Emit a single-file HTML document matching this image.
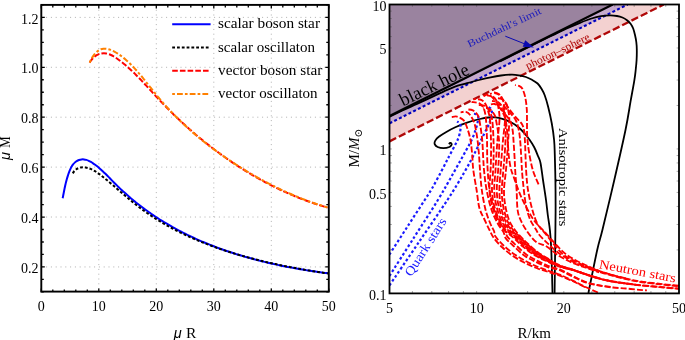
<!DOCTYPE html>
<html><head><meta charset="utf-8"><title>Mass-radius diagrams</title>
<style>
html,body{margin:0;padding:0;background:#fff;}
svg{display:block;}
text{font-family:'Liberation Serif', 'DejaVu Serif', serif;}
.tk{font-size:14px;}
.lg{font-size:14px;}
.ax{font-size:15.5px;}
.mu{font-family:'Liberation Sans','DejaVu Sans',sans-serif;font-style:italic;font-size:14.5px;}
</style></head><body>
<svg width="685" height="340" viewBox="0 0 685 340">
<rect width="685" height="340" fill="#fff"/>
<g stroke="#b0b0b0" stroke-width="1" stroke-dasharray="1 3.8" fill="none"><line x1="98.80" y1="4.90" x2="98.80" y2="291.90"/><line x1="156.30" y1="4.90" x2="156.30" y2="291.90"/><line x1="213.80" y1="4.90" x2="213.80" y2="291.90"/><line x1="271.30" y1="4.90" x2="271.30" y2="291.90"/><line x1="41.30" y1="266.94" x2="328.80" y2="266.94"/><line x1="41.30" y1="217.03" x2="328.80" y2="217.03"/><line x1="41.30" y1="167.12" x2="328.80" y2="167.12"/><line x1="41.30" y1="117.20" x2="328.80" y2="117.20"/><line x1="41.30" y1="67.29" x2="328.80" y2="67.29"/><line x1="41.30" y1="17.38" x2="328.80" y2="17.38"/></g>
<path d="M62.66,197.39C62.74,196.98 62.99,195.73 63.15,194.90C63.31,194.07 63.47,193.24 63.64,192.42C63.80,191.59 63.96,190.77 64.12,189.95C64.29,189.12 64.45,188.30 64.62,187.48C64.79,186.66 64.97,185.84 65.15,185.02C65.33,184.21 65.52,183.39 65.71,182.58C65.91,181.76 66.11,180.95 66.32,180.13C66.53,179.32 66.75,178.51 66.99,177.70C67.22,176.89 67.47,176.08 67.73,175.28C67.99,174.47 68.26,173.66 68.55,172.86C68.83,172.05 69.13,171.24 69.46,170.44C69.78,169.64 70.11,168.84 70.48,168.06C70.85,167.28 71.24,166.51 71.67,165.77C72.10,165.04 72.56,164.33 73.06,163.67C73.57,163.01 74.12,162.38 74.72,161.83C75.33,161.27 75.98,160.75 76.69,160.32C77.40,159.89 78.20,159.51 79.00,159.24C79.81,158.96 80.69,158.75 81.52,158.65C82.36,158.55 83.20,158.55 84.01,158.63C84.82,158.71 85.62,158.88 86.40,159.11C87.19,159.34 87.95,159.65 88.71,159.99C89.46,160.33 90.20,160.73 90.93,161.15C91.66,161.57 92.38,162.03 93.08,162.50C93.79,162.97 94.48,163.46 95.17,163.96C95.86,164.47 96.53,164.99 97.20,165.52C97.86,166.05 98.52,166.60 99.17,167.15C99.82,167.71 100.46,168.27 101.10,168.85C101.73,169.42 102.36,170.01 102.99,170.60C103.61,171.19 104.23,171.79 104.84,172.39C105.46,172.99 106.07,173.60 106.68,174.22C107.29,174.83 107.89,175.45 108.49,176.07C109.10,176.68 109.70,177.31 110.30,177.93C110.90,178.55 111.50,179.17 112.10,179.79C112.71,180.41 113.31,181.03 113.91,181.65C114.51,182.26 115.12,182.87 115.73,183.48C116.34,184.09 116.95,184.70 117.56,185.30C118.17,185.90 118.79,186.49 119.40,187.09C120.02,187.68 120.64,188.27 121.26,188.85C121.89,189.44 122.51,190.02 123.14,190.60C123.77,191.17 124.39,191.75 125.03,192.32C125.66,192.89 126.29,193.45 126.93,194.01C127.56,194.58 128.20,195.13 128.84,195.69C129.48,196.24 130.13,196.79 130.77,197.34C131.42,197.89 132.06,198.43 132.71,198.97C133.36,199.51 134.01,200.05 134.67,200.58C135.32,201.11 135.98,201.64 136.63,202.16C137.29,202.69 137.95,203.21 138.61,203.73C139.28,204.24 139.94,204.76 140.61,205.27C141.27,205.78 141.94,206.29 142.61,206.79C143.28,207.29 143.96,207.79 144.63,208.29C145.30,208.78 145.98,209.28 146.66,209.76C147.34,210.25 148.02,210.74 148.70,211.22C149.38,211.70 150.07,212.18 150.76,212.66C151.44,213.13 152.13,213.60 152.82,214.07C153.51,214.54 154.20,215.00 154.90,215.46C155.59,215.93 156.29,216.38 156.99,216.84C157.69,217.29 158.39,217.74 159.09,218.19C159.79,218.64 160.49,219.08 161.20,219.52C161.90,219.96 162.61,220.40 163.32,220.84C164.03,221.27 164.74,221.70 165.45,222.13C166.17,222.56 166.88,222.98 167.60,223.40C168.31,223.82 169.03,224.24 169.75,224.66C170.47,225.07 171.19,225.48 171.92,225.89C172.64,226.30 173.36,226.70 174.09,227.11C174.82,227.51 175.55,227.91 176.28,228.30C177.01,228.70 177.74,229.09 178.47,229.48C179.21,229.87 179.94,230.26 180.68,230.64C181.41,231.02 182.15,231.40 182.89,231.78C183.63,232.16 184.37,232.53 185.12,232.90C185.86,233.27 186.60,233.64 187.35,234.01C188.10,234.37 188.84,234.73 189.59,235.09C190.34,235.45 191.09,235.81 191.84,236.16C192.60,236.51 193.35,236.86 194.10,237.21C194.86,237.56 195.62,237.90 196.37,238.24C197.13,238.58 197.89,238.92 198.65,239.26C199.41,239.59 200.18,239.93 200.94,240.26C201.70,240.59 202.47,240.91 203.23,241.24C204.00,241.56 204.77,241.88 205.54,242.20C206.31,242.52 207.08,242.84 207.85,243.15C208.62,243.46 209.39,243.77 210.17,244.08C210.94,244.39 211.72,244.69 212.50,245.00C213.27,245.30 214.05,245.60 214.83,245.89C215.61,246.19 216.39,246.48 217.17,246.78C217.95,247.07 218.74,247.36 219.52,247.64C220.31,247.93 221.09,248.21 221.88,248.49C222.67,248.77 223.45,249.05 224.24,249.33C225.03,249.60 225.82,249.88 226.61,250.15C227.40,250.42 228.20,250.69 228.99,250.95C229.78,251.22 230.58,251.48 231.37,251.74C232.17,252.00 232.97,252.26 233.76,252.52C234.56,252.77 235.36,253.02 236.16,253.28C236.96,253.53 237.76,253.77 238.56,254.02C239.37,254.27 240.17,254.51 240.97,254.75C241.78,254.99 242.58,255.23 243.39,255.47C244.19,255.70 245.00,255.94 245.81,256.17C246.61,256.40 247.42,256.63 248.23,256.86C249.04,257.09 249.85,257.31 250.66,257.53C251.48,257.76 252.29,257.98 253.10,258.19C253.91,258.41 254.73,258.63 255.54,258.84C256.36,259.05 257.17,259.27 257.99,259.48C258.80,259.68 259.62,259.89 260.44,260.10C261.26,260.30 262.08,260.50 262.90,260.70C263.72,260.90 264.54,261.10 265.36,261.30C266.18,261.50 267.00,261.69 267.82,261.88C268.64,262.07 269.47,262.26 270.29,262.45C271.11,262.64 271.94,262.83 272.76,263.01C273.59,263.19 274.41,263.38 275.24,263.56C276.07,263.74 276.89,263.91 277.72,264.09C278.55,264.27 279.38,264.44 280.21,264.61C281.03,264.78 281.86,264.95 282.69,265.12C283.52,265.29 284.35,265.46 285.18,265.62C286.02,265.78 286.85,265.95 287.68,266.11C288.51,266.27 289.34,266.43 290.18,266.58C291.01,266.74 291.84,266.90 292.68,267.05C293.51,267.20 294.35,267.35 295.18,267.50C296.01,267.65 296.85,267.80 297.69,267.95C298.52,268.09 299.36,268.24 300.19,268.38C301.03,268.52 301.87,268.66 302.70,268.80C303.54,268.94 304.38,269.08 305.22,269.22C306.05,269.35 306.89,269.49 307.73,269.62C308.57,269.75 309.41,269.88 310.25,270.01C311.09,270.14 311.93,270.27 312.77,270.39C313.61,270.52 314.44,270.64 315.29,270.77C316.13,270.89 316.97,271.01 317.81,271.13C318.65,271.25 319.49,271.37 320.33,271.49C321.17,271.60 322.01,271.72 322.85,271.83C323.69,271.95 324.53,272.06 325.38,272.17C326.22,272.28 327.48,272.44 327.90,272.50" fill="none" transform="translate(0,0.8)" stroke="#0000ff" stroke-width="2"/>
<path d="M72.78,172.55C73.04,172.16 73.76,170.88 74.34,170.21C74.91,169.53 75.56,168.96 76.24,168.49C76.91,168.01 77.65,167.63 78.40,167.34C79.16,167.04 79.95,166.84 80.75,166.70C81.56,166.56 82.39,166.51 83.21,166.52C84.04,166.52 84.88,166.60 85.70,166.73C86.53,166.86 87.35,167.05 88.15,167.28C88.95,167.51 89.73,167.80 90.50,168.12C91.28,168.43 92.04,168.80 92.79,169.18C93.54,169.57 94.27,169.99 95.00,170.43C95.73,170.87 96.45,171.34 97.16,171.82C97.87,172.30 98.57,172.81 99.27,173.32C99.97,173.83 100.66,174.36 101.34,174.89C102.03,175.42 102.71,175.96 103.39,176.50C104.06,177.04 104.74,177.59 105.41,178.13C106.08,178.68 106.75,179.22 107.41,179.77C108.08,180.32 108.74,180.88 109.40,181.43C110.06,181.98 110.72,182.54 111.37,183.09C112.03,183.65 112.68,184.20 113.33,184.76C113.98,185.32 114.63,185.88 115.28,186.43C115.93,186.99 116.58,187.55 117.22,188.11C117.87,188.67 118.52,189.23 119.16,189.79C119.81,190.34 120.45,190.90 121.09,191.46C121.74,192.01 122.38,192.57 123.02,193.13C123.67,193.68 124.31,194.23 124.95,194.79C125.60,195.34 126.24,195.89 126.89,196.44C127.53,196.98 128.18,197.53 128.83,198.07C129.47,198.62 130.12,199.16 130.77,199.70C131.42,200.24 132.07,200.78 132.73,201.31C133.38,201.84 134.03,202.37 134.69,202.90C135.35,203.42 136.01,203.95 136.67,204.47C137.33,204.99 138.00,205.50 138.66,206.01C139.33,206.52 140.00,207.03 140.67,207.54C141.35,208.04 142.02,208.54 142.70,209.04C143.38,209.53 144.06,210.02 144.74,210.51C145.42,211.00 146.11,211.48 146.79,211.96C147.48,212.45 148.17,212.92 148.86,213.40C149.55,213.87 150.25,214.34 150.95,214.80C151.64,215.27 152.34,215.73 153.04,216.19C153.75,216.65 154.45,217.10 155.16,217.55C155.86,218.00 156.57,218.45 157.28,218.90C157.99,219.34 158.71,219.78 159.42,220.22C160.14,220.65 160.85,221.09 161.57,221.52C162.29,221.95 163.02,222.37 163.74,222.79C164.46,223.22 165.19,223.64 165.92,224.05C166.65,224.47 167.38,224.88 168.11,225.29C168.84,225.70 169.57,226.10 170.31,226.51C171.05,226.91 171.79,227.31 172.53,227.70C173.27,228.10 174.01,228.49 174.75,228.88C175.50,229.27 176.24,229.65 176.99,230.04C177.74,230.42 178.49,230.80 179.24,231.17C179.99,231.55 180.74,231.92 181.50,232.29C182.25,232.66 183.01,233.03 183.77,233.39C184.53,233.75 185.29,234.11 186.05,234.47C186.81,234.83 187.58,235.18 188.34,235.53C189.11,235.88 189.88,236.23 190.65,236.58C191.41,236.92 192.18,237.26 192.96,237.60C193.73,237.94 194.50,238.28 195.28,238.61C196.05,238.94 196.83,239.27 197.61,239.60C198.39,239.92 199.17,240.25 199.95,240.57C200.73,240.89 201.51,241.21 202.29,241.52C203.08,241.84 203.86,242.15 204.65,242.46C205.44,242.77 206.23,243.08 207.02,243.38C207.81,243.69 208.60,243.99 209.39,244.29C210.18,244.59 210.97,244.88 211.77,245.18C212.56,245.47 213.36,245.76 214.16,246.05C214.95,246.34 215.75,246.62 216.55,246.91C217.35,247.19 218.15,247.47 218.96,247.75C219.76,248.02 220.56,248.30 221.36,248.57C222.17,248.84 222.97,249.11 223.78,249.38C224.59,249.65 225.39,249.92 226.20,250.18C227.01,250.44 227.82,250.70 228.63,250.96C229.44,251.22 230.25,251.47 231.06,251.72C231.88,251.98 232.69,252.23 233.50,252.48C234.32,252.72 235.13,252.97 235.95,253.21C236.76,253.46 237.58,253.70 238.40,253.94C239.22,254.18 240.03,254.41 240.85,254.65C241.67,254.88 242.49,255.11 243.31,255.35C244.13,255.58 244.95,255.80 245.78,256.03C246.60,256.25 247.42,256.48 248.24,256.70C249.07,256.92 249.89,257.14 250.72,257.36C251.54,257.58 252.37,257.79 253.19,258.00C254.02,258.22 254.84,258.43 255.67,258.64C256.50,258.85 257.32,259.05 258.15,259.26C258.98,259.46 259.81,259.67 260.64,259.87C261.46,260.07 262.29,260.27 263.12,260.47C263.95,260.66 264.78,260.86 265.61,261.05C266.44,261.25 267.27,261.44 268.10,261.63C268.94,261.82 269.77,262.01 270.60,262.19C271.43,262.38 272.26,262.56 273.09,262.75C273.93,262.93 274.76,263.11 275.59,263.29C276.42,263.47 277.25,263.65 278.09,263.82C278.92,264.00 279.75,264.18 280.59,264.35C281.42,264.52 282.25,264.69 283.09,264.86C283.92,265.03 284.75,265.20 285.58,265.37C286.42,265.53 287.25,265.70 288.08,265.86C288.92,266.02 289.75,266.19 290.58,266.35C291.42,266.51 292.25,266.67 293.08,266.82C293.92,266.98 294.75,267.14 295.58,267.29C296.41,267.45 297.25,267.60 298.08,267.75C298.91,267.90 299.74,268.05 300.58,268.20C301.41,268.35 302.24,268.50 303.07,268.65C303.90,268.79 304.74,268.94 305.57,269.08C306.40,269.23 307.23,269.37 308.06,269.51C308.89,269.65 309.72,269.79 310.55,269.93C311.38,270.07 312.21,270.21 313.04,270.35C313.86,270.49 314.69,270.62 315.52,270.76C316.35,270.89 317.18,271.02 318.00,271.16C318.83,271.29 319.66,271.42 320.48,271.55C321.31,271.68 322.13,271.81 322.96,271.94C323.78,272.07 324.61,272.20 325.43,272.32C326.25,272.45 327.49,272.64 327.90,272.70" fill="none" transform="translate(0,0.8)" stroke="#000000" stroke-width="2" stroke-dasharray="2.8 2.0"/>
<path d="M89.71,61.84C89.93,61.48 90.50,60.36 90.98,59.66C91.47,58.96 92.02,58.28 92.61,57.65C93.20,57.01 93.85,56.41 94.53,55.87C95.21,55.33 95.94,54.83 96.68,54.40C97.43,53.98 98.22,53.61 99.01,53.32C99.80,53.04 100.62,52.82 101.43,52.68C102.24,52.54 103.07,52.48 103.89,52.48C104.70,52.48 105.51,52.55 106.31,52.69C107.10,52.82 107.89,53.03 108.67,53.27C109.45,53.52 110.21,53.83 110.97,54.17C111.73,54.52 112.48,54.91 113.22,55.33C113.96,55.74 114.69,56.20 115.41,56.67C116.14,57.14 116.85,57.64 117.56,58.15C118.27,58.65 118.96,59.17 119.66,59.69C120.35,60.21 121.03,60.74 121.71,61.27C122.38,61.80 123.05,62.34 123.71,62.88C124.38,63.43 125.03,63.97 125.68,64.52C126.33,65.08 126.97,65.63 127.61,66.19C128.25,66.75 128.88,67.32 129.50,67.89C130.13,68.45 130.75,69.03 131.37,69.60C131.98,70.18 132.59,70.76 133.20,71.34C133.81,71.92 134.41,72.51 135.01,73.10C135.60,73.69 136.20,74.28 136.79,74.88C137.38,75.47 137.97,76.07 138.55,76.67C139.13,77.27 139.71,77.87 140.29,78.47C140.87,79.08 141.44,79.68 142.02,80.29C142.59,80.90 143.16,81.51 143.73,82.12C144.30,82.73 144.87,83.34 145.43,83.96C146.00,84.57 146.56,85.19 147.13,85.80C147.69,86.42 148.25,87.03 148.81,87.65C149.38,88.27 149.94,88.88 150.50,89.50C151.06,90.12 151.62,90.73 152.19,91.35C152.75,91.97 153.31,92.58 153.87,93.20C154.44,93.82 155.00,94.43 155.57,95.05C156.13,95.66 156.70,96.28 157.27,96.89C157.84,97.50 158.41,98.11 158.98,98.72C159.56,99.33 160.13,99.94 160.71,100.55C161.28,101.16 161.86,101.76 162.44,102.37C163.02,102.97 163.60,103.58 164.19,104.18C164.77,104.78 165.36,105.38 165.95,105.98C166.53,106.58 167.12,107.18 167.71,107.78C168.31,108.38 168.90,108.97 169.49,109.56C170.09,110.16 170.69,110.75 171.29,111.34C171.88,111.93 172.49,112.52 173.09,113.11C173.69,113.70 174.29,114.29 174.90,114.87C175.51,115.46 176.11,116.04 176.72,116.62C177.33,117.21 177.95,117.79 178.56,118.37C179.17,118.94 179.79,119.52 180.40,120.10C181.02,120.67 181.64,121.25 182.26,121.82C182.88,122.39 183.50,122.97 184.13,123.53C184.75,124.10 185.37,124.67 186.00,125.24C186.63,125.80 187.26,126.37 187.89,126.93C188.52,127.49 189.15,128.05 189.79,128.61C190.42,129.17 191.06,129.73 191.69,130.29C192.33,130.84 192.97,131.40 193.61,131.95C194.25,132.50 194.90,133.05 195.54,133.60C196.19,134.15 196.83,134.70 197.48,135.24C198.13,135.79 198.78,136.33 199.43,136.87C200.08,137.41 200.73,137.95 201.39,138.49C202.04,139.03 202.70,139.56 203.35,140.10C204.01,140.63 204.67,141.16 205.33,141.69C205.99,142.22 206.66,142.75 207.32,143.27C207.99,143.80 208.65,144.32 209.32,144.85C209.99,145.37 210.66,145.89 211.33,146.41C212.00,146.92 212.67,147.44 213.34,147.95C214.02,148.47 214.69,148.98 215.37,149.49C216.05,150.00 216.73,150.50 217.41,151.01C218.09,151.52 218.77,152.02 219.45,152.52C220.14,153.02 220.82,153.52 221.51,154.02C222.19,154.51 222.88,155.01 223.57,155.50C224.26,155.99 224.95,156.48 225.65,156.97C226.34,157.46 227.03,157.94 227.73,158.43C228.42,158.91 229.12,159.39 229.82,159.87C230.52,160.35 231.22,160.83 231.92,161.30C232.62,161.78 233.33,162.25 234.03,162.72C234.74,163.19 235.44,163.65 236.15,164.12C236.86,164.58 237.57,165.05 238.28,165.51C238.99,165.97 239.70,166.43 240.41,166.88C241.13,167.34 241.84,167.79 242.56,168.24C243.28,168.69 243.99,169.14 244.71,169.58C245.43,170.03 246.15,170.47 246.88,170.91C247.60,171.35 248.32,171.79 249.05,172.23C249.77,172.66 250.50,173.10 251.23,173.53C251.95,173.96 252.68,174.39 253.41,174.81C254.14,175.24 254.88,175.66 255.61,176.08C256.34,176.50 257.08,176.92 257.81,177.33C258.55,177.75 259.29,178.16 260.03,178.57C260.77,178.98 261.51,179.39 262.25,179.79C262.99,180.19 263.73,180.60 264.48,180.99C265.22,181.39 265.97,181.79 266.71,182.18C267.46,182.58 268.21,182.97 268.96,183.35C269.71,183.74 270.46,184.13 271.21,184.51C271.97,184.89 272.72,185.27 273.47,185.65C274.23,186.02 274.99,186.40 275.74,186.77C276.50,187.14 277.26,187.51 278.02,187.87C278.78,188.24 279.54,188.60 280.30,188.96C281.07,189.32 281.83,189.68 282.60,190.03C283.36,190.38 284.13,190.73 284.89,191.08C285.66,191.43 286.43,191.77 287.20,192.11C287.97,192.46 288.74,192.79 289.52,193.13C290.29,193.47 291.06,193.80 291.84,194.13C292.61,194.46 293.39,194.78 294.17,195.11C294.94,195.43 295.72,195.75 296.50,196.07C297.28,196.39 298.06,196.70 298.85,197.01C299.63,197.32 300.41,197.63 301.20,197.93C301.98,198.24 302.77,198.54 303.55,198.84C304.34,199.14 305.13,199.43 305.92,199.72C306.71,200.01 307.50,200.30 308.29,200.59C309.08,200.87 309.87,201.16 310.67,201.44C311.46,201.71 312.26,201.99 313.05,202.26C313.85,202.53 314.64,202.80 315.44,203.07C316.24,203.33 317.04,203.60 317.84,203.86C318.64,204.11 319.44,204.37 320.25,204.62C321.05,204.87 321.85,205.12 322.66,205.37C323.46,205.61 324.27,205.86 325.08,206.09C325.88,206.33 327.10,206.68 327.50,206.80" fill="none" transform="translate(0,0.8)" stroke="#ff0000" stroke-width="2" stroke-dasharray="5.6 2.1"/>
<path d="M89.71,61.81C89.85,61.47 90.24,60.47 90.58,59.76C90.91,59.05 91.30,58.30 91.73,57.55C92.16,56.81 92.63,56.04 93.14,55.31C93.65,54.58 94.20,53.84 94.79,53.16C95.37,52.48 96.00,51.81 96.65,51.23C97.31,50.64 98.00,50.09 98.72,49.64C99.44,49.18 100.19,48.79 100.96,48.51C101.73,48.24 102.54,48.06 103.35,47.97C104.16,47.87 105.00,47.88 105.81,47.95C106.63,48.02 107.45,48.17 108.25,48.37C109.06,48.57 109.85,48.83 110.63,49.13C111.42,49.43 112.19,49.78 112.95,50.15C113.71,50.52 114.46,50.93 115.20,51.34C115.94,51.76 116.67,52.20 117.39,52.65C118.11,53.10 118.82,53.56 119.51,54.04C120.21,54.52 120.90,55.01 121.58,55.52C122.25,56.02 122.92,56.54 123.58,57.07C124.24,57.59 124.89,58.13 125.53,58.68C126.17,59.23 126.81,59.79 127.43,60.36C128.06,60.93 128.68,61.51 129.29,62.10C129.90,62.68 130.50,63.28 131.10,63.88C131.69,64.48 132.28,65.09 132.87,65.70C133.45,66.31 134.03,66.93 134.60,67.56C135.17,68.18 135.74,68.81 136.30,69.44C136.86,70.07 137.42,70.70 137.97,71.34C138.52,71.98 139.07,72.62 139.61,73.26C140.16,73.90 140.70,74.54 141.23,75.19C141.77,75.83 142.30,76.48 142.83,77.13C143.36,77.78 143.89,78.43 144.41,79.09C144.94,79.74 145.46,80.39 145.98,81.05C146.51,81.70 147.03,82.35 147.54,83.01C148.06,83.66 148.58,84.32 149.10,84.98C149.62,85.63 150.13,86.29 150.65,86.94C151.17,87.60 151.68,88.25 152.20,88.91C152.72,89.56 153.24,90.21 153.76,90.87C154.27,91.52 154.80,92.17 155.32,92.82C155.84,93.47 156.36,94.11 156.89,94.76C157.42,95.40 157.95,96.05 158.48,96.69C159.01,97.33 159.54,97.97 160.08,98.61C160.62,99.24 161.16,99.88 161.70,100.51C162.24,101.14 162.79,101.77 163.34,102.39C163.89,103.02 164.44,103.64 164.99,104.27C165.55,104.89 166.11,105.51 166.67,106.13C167.23,106.74 167.79,107.36 168.35,107.97C168.92,108.58 169.49,109.19 170.06,109.80C170.63,110.41 171.20,111.01 171.78,111.62C172.36,112.22 172.93,112.82 173.52,113.42C174.10,114.02 174.68,114.61 175.27,115.20C175.86,115.80 176.44,116.39 177.04,116.98C177.63,117.57 178.22,118.15 178.82,118.74C179.42,119.32 180.02,119.90 180.62,120.48C181.22,121.06 181.82,121.64 182.43,122.22C183.04,122.79 183.65,123.36 184.26,123.94C184.87,124.51 185.49,125.07 186.10,125.64C186.72,126.21 187.34,126.77 187.96,127.33C188.58,127.89 189.20,128.45 189.83,129.01C190.46,129.57 191.08,130.12 191.72,130.67C192.35,131.23 192.98,131.78 193.61,132.32C194.25,132.87 194.89,133.42 195.53,133.96C196.17,134.50 196.81,135.05 197.45,135.58C198.10,136.12 198.74,136.66 199.39,137.19C200.04,137.73 200.69,138.26 201.34,138.79C202.00,139.32 202.65,139.85 203.31,140.38C203.96,140.90 204.62,141.43 205.28,141.95C205.95,142.47 206.61,142.99 207.27,143.51C207.94,144.02 208.61,144.54 209.28,145.05C209.94,145.56 210.62,146.07 211.29,146.58C211.96,147.09 212.64,147.60 213.31,148.10C213.99,148.61 214.67,149.11 215.35,149.61C216.03,150.11 216.71,150.60 217.40,151.10C218.08,151.60 218.77,152.09 219.46,152.58C220.15,153.07 220.84,153.56 221.53,154.05C222.22,154.54 222.91,155.02 223.61,155.50C224.31,155.99 225.00,156.47 225.70,156.95C226.40,157.43 227.10,157.90 227.80,158.38C228.51,158.85 229.21,159.32 229.92,159.80C230.62,160.27 231.33,160.73 232.04,161.20C232.75,161.67 233.46,162.13 234.17,162.59C234.88,163.06 235.60,163.52 236.31,163.97C237.03,164.43 237.74,164.89 238.46,165.34C239.18,165.80 239.90,166.25 240.62,166.70C241.34,167.15 242.07,167.60 242.79,168.04C243.51,168.49 244.24,168.93 244.97,169.38C245.69,169.82 246.42,170.26 247.15,170.69C247.88,171.13 248.62,171.57 249.35,172.00C250.08,172.43 250.81,172.86 251.55,173.29C252.29,173.72 253.02,174.15 253.76,174.57C254.50,175.00 255.24,175.42 255.98,175.84C256.72,176.26 257.46,176.67 258.20,177.09C258.95,177.50 259.69,177.92 260.44,178.33C261.18,178.74 261.93,179.14 262.68,179.55C263.43,179.95 264.18,180.36 264.93,180.76C265.68,181.15 266.43,181.55 267.18,181.95C267.93,182.34 268.69,182.73 269.44,183.12C270.19,183.51 270.95,183.90 271.71,184.28C272.46,184.67 273.22,185.05 273.98,185.43C274.74,185.81 275.50,186.18 276.26,186.55C277.02,186.93 277.78,187.30 278.54,187.67C279.31,188.03 280.07,188.40 280.83,188.76C281.60,189.12 282.36,189.48 283.13,189.84C283.90,190.19 284.66,190.54 285.43,190.89C286.20,191.24 286.97,191.59 287.74,191.93C288.51,192.28 289.28,192.62 290.05,192.96C290.82,193.29 291.59,193.63 292.36,193.96C293.13,194.29 293.91,194.62 294.68,194.95C295.46,195.27 296.23,195.59 297.00,195.91C297.78,196.23 298.56,196.55 299.33,196.86C300.11,197.17 300.89,197.48 301.66,197.79C302.44,198.09 303.22,198.39 304.00,198.69C304.78,198.99 305.56,199.29 306.34,199.58C307.12,199.87 307.90,200.16 308.68,200.45C309.46,200.73 310.24,201.01 311.02,201.29C311.80,201.57 312.59,201.84 313.37,202.12C314.15,202.39 314.94,202.65 315.72,202.92C316.50,203.18 317.29,203.44 318.07,203.70C318.86,203.96 319.64,204.21 320.43,204.46C321.21,204.71 322.00,204.95 322.78,205.19C323.57,205.44 324.35,205.67 325.14,205.91C325.93,206.14 327.11,206.49 327.50,206.60" fill="none" transform="translate(0,0.8)" stroke="#ff8000" stroke-width="2" stroke-dasharray="2.7 2.1 5.8 2.1"/>
<path d="M41.30,291.90v-3.50M41.30,4.90v3.50M52.80,291.90v-2.50M52.80,4.90v2.50M64.30,291.90v-2.50M64.30,4.90v2.50M75.80,291.90v-2.50M75.80,4.90v2.50M87.30,291.90v-2.50M87.30,4.90v2.50M98.80,291.90v-3.50M98.80,4.90v3.50M110.30,291.90v-2.50M110.30,4.90v2.50M121.80,291.90v-2.50M121.80,4.90v2.50M133.30,291.90v-2.50M133.30,4.90v2.50M144.80,291.90v-2.50M144.80,4.90v2.50M156.30,291.90v-3.50M156.30,4.90v3.50M167.80,291.90v-2.50M167.80,4.90v2.50M179.30,291.90v-2.50M179.30,4.90v2.50M190.80,291.90v-2.50M190.80,4.90v2.50M202.30,291.90v-2.50M202.30,4.90v2.50M213.80,291.90v-3.50M213.80,4.90v3.50M225.30,291.90v-2.50M225.30,4.90v2.50M236.80,291.90v-2.50M236.80,4.90v2.50M248.30,291.90v-2.50M248.30,4.90v2.50M259.80,291.90v-2.50M259.80,4.90v2.50M271.30,291.90v-3.50M271.30,4.90v3.50M282.80,291.90v-2.50M282.80,4.90v2.50M294.30,291.90v-2.50M294.30,4.90v2.50M305.80,291.90v-2.50M305.80,4.90v2.50M317.30,291.90v-2.50M317.30,4.90v2.50M328.80,291.90v-3.50M328.80,4.90v3.50M41.30,291.90h2.50M328.80,291.90h-2.50M41.30,279.42h2.50M328.80,279.42h-2.50M41.30,266.94h3.50M328.80,266.94h-3.50M41.30,254.47h2.50M328.80,254.47h-2.50M41.30,241.99h2.50M328.80,241.99h-2.50M41.30,229.51h2.50M328.80,229.51h-2.50M41.30,217.03h3.50M328.80,217.03h-3.50M41.30,204.55h2.50M328.80,204.55h-2.50M41.30,192.07h2.50M328.80,192.07h-2.50M41.30,179.60h2.50M328.80,179.60h-2.50M41.30,167.12h3.50M328.80,167.12h-3.50M41.30,154.64h2.50M328.80,154.64h-2.50M41.30,142.16h2.50M328.80,142.16h-2.50M41.30,129.68h2.50M328.80,129.68h-2.50M41.30,117.20h3.50M328.80,117.20h-3.50M41.30,104.73h2.50M328.80,104.73h-2.50M41.30,92.25h2.50M328.80,92.25h-2.50M41.30,79.77h2.50M328.80,79.77h-2.50M41.30,67.29h3.50M328.80,67.29h-3.50M41.30,54.81h2.50M328.80,54.81h-2.50M41.30,42.33h2.50M328.80,42.33h-2.50M41.30,29.86h2.50M328.80,29.86h-2.50M41.30,17.38h3.50M328.80,17.38h-3.50M41.30,4.90h2.50M328.80,4.90h-2.50" stroke="#000" stroke-width="1.3" fill="none"/>
<rect x="41.30" y="4.90" width="287.50" height="286.70" fill="none" stroke="#000" stroke-width="1.9"/>
<text x="41.30" y="311" text-anchor="middle" class="tk">0</text>
<text x="98.80" y="311" text-anchor="middle" class="tk">10</text>
<text x="156.30" y="311" text-anchor="middle" class="tk">20</text>
<text x="213.80" y="311" text-anchor="middle" class="tk">30</text>
<text x="271.30" y="311" text-anchor="middle" class="tk">40</text>
<text x="328.80" y="311" text-anchor="middle" class="tk">50</text>
<text x="38.4" y="273.14" text-anchor="end" class="tk">0.2</text>
<text x="38.4" y="223.23" text-anchor="end" class="tk">0.4</text>
<text x="38.4" y="173.32" text-anchor="end" class="tk">0.6</text>
<text x="38.4" y="123.40" text-anchor="end" class="tk">0.8</text>
<text x="38.4" y="73.49" text-anchor="end" class="tk">1.0</text>
<text x="38.4" y="23.58" text-anchor="end" class="tk">1.2</text>
<text x="173.8" y="337.6" class="ax"><tspan class="mu">μ</tspan><tspan x="186">R</tspan></text>
<text transform="translate(10,160) rotate(-90)" class="ax"><tspan class="mu">μ</tspan><tspan x="12.2" textLength="11.4" lengthAdjust="spacingAndGlyphs">M</tspan></text>
<line x1="172.2" y1="24.20" x2="210.6" y2="24.20" stroke="#0000ff" stroke-width="2"/>
<text x="218" y="28.40" class="lg" textLength="102" lengthAdjust="spacingAndGlyphs">scalar boson star</text>
<line x1="172.2" y1="47.50" x2="208.8" y2="47.50" stroke="#000" stroke-width="2" stroke-dasharray="2.8 2.0"/>
<text x="218" y="51.70" class="lg" textLength="97" lengthAdjust="spacingAndGlyphs">scalar oscillaton</text>
<line x1="172.2" y1="70.80" x2="208.8" y2="70.80" stroke="#ff0000" stroke-width="2" stroke-dasharray="5.6 2.1"/>
<text x="218" y="75.00" class="lg" textLength="104.3" lengthAdjust="spacingAndGlyphs">vector boson star</text>
<line x1="172.2" y1="94.10" x2="208.8" y2="94.10" stroke="#ff8000" stroke-width="2" stroke-dasharray="2.7 2.1 5.8 2.1"/>
<text x="218" y="98.30" class="lg" textLength="99.6" lengthAdjust="spacingAndGlyphs">vector oscillaton</text>
<clipPath id="rc"><rect x="389.50" y="4.50" width="289.50" height="288.90"/></clipPath>
<g clip-path="url(#rc)">
<polygon points="389.50,141.35 663.78,4.50 389.50,4.50" fill="#f3d1d0"/>
<polygon points="389.50,123.31 627.61,4.50 389.50,4.50" fill="#c5a9cc"/>
<polygon points="389.50,115.92 612.80,4.50 389.50,4.50" fill="#9a839f"/>
<line x1="389.50" y1="141.35" x2="663.78" y2="4.50" stroke="#b00808" stroke-width="2.3" stroke-dasharray="7.4 3"/>
<line x1="389.50" y1="123.31" x2="627.61" y2="4.50" stroke="#0000c0" stroke-width="2.1" stroke-dasharray="3 2.3"/>
<line x1="389.50" y1="115.92" x2="612.80" y2="4.50" stroke="#000" stroke-width="2.2"/>
<path d="M500.00,61.40C503.33,59.73 512.50,55.13 520.00,51.40C527.50,47.67 539.00,41.95 545.00,39.00C551.00,36.05 552.37,35.45 556.00,33.70C559.63,31.95 562.80,30.32 566.80,28.50C570.80,26.68 575.88,24.47 580.00,22.80C584.12,21.13 588.00,19.60 591.50,18.50C595.00,17.40 597.92,16.72 601.00,16.20C604.08,15.68 607.33,15.43 610.00,15.40C612.67,15.37 614.93,15.65 617.00,16.00C619.07,16.35 620.73,16.80 622.40,17.50C624.07,18.20 625.63,19.17 627.00,20.20C628.37,21.23 629.57,22.32 630.60,23.70C631.63,25.08 632.47,26.62 633.20,28.50C633.93,30.38 634.48,32.75 635.00,35.00C635.52,37.25 636.00,39.60 636.30,42.00C636.60,44.40 636.75,46.40 636.80,49.40C636.85,52.40 636.78,56.57 636.60,60.00C636.42,63.43 636.08,66.57 635.70,70.00C635.32,73.43 635.15,75.40 634.30,80.60C633.45,85.80 632.07,92.97 630.60,101.20C629.13,109.43 628.22,116.87 625.50,130.00C622.78,143.13 618.15,163.33 614.30,180.00C610.45,196.67 605.25,218.33 602.40,230.00C599.55,241.67 599.53,239.50 597.20,250.00C594.87,260.50 589.87,285.83 588.40,293.00" fill="none" stroke="#000" stroke-width="1.8"/>
<path d="M389.50,116.60C391.75,115.53 398.42,112.32 403.00,110.20C407.58,108.08 412.50,105.95 417.00,103.90C421.50,101.85 425.58,99.95 430.00,97.90C434.42,95.85 439.33,93.48 443.50,91.60C447.67,89.72 451.08,88.00 455.00,86.60C458.92,85.20 463.00,84.30 467.00,83.20C471.00,82.10 475.07,80.98 479.00,80.00C482.93,79.02 486.93,78.05 490.60,77.30C494.27,76.55 497.47,75.95 501.00,75.50C504.53,75.05 508.80,74.63 511.80,74.60C514.80,74.57 516.65,74.90 519.00,75.30C521.35,75.70 523.73,76.25 525.90,77.00C528.07,77.75 530.05,78.72 532.00,79.80C533.95,80.88 536.02,82.00 537.60,83.50C539.18,85.00 540.32,86.83 541.50,88.80C542.68,90.77 543.58,92.27 544.70,95.30C545.82,98.33 547.02,102.30 548.20,107.00C549.38,111.70 550.82,118.00 551.80,123.50C552.78,129.00 553.60,134.75 554.10,140.00C554.60,145.25 554.58,148.33 554.80,155.00C555.02,161.67 555.27,171.67 555.40,180.00C555.53,188.33 555.60,196.67 555.60,205.00C555.60,213.33 555.57,215.33 555.40,230.00C555.23,244.67 554.73,282.50 554.60,293.00" fill="none" stroke="#000" stroke-width="1.8"/>
<path d="M448.80,144.10C449.03,143.90 449.77,143.02 450.20,142.90C450.63,142.78 451.18,143.07 451.40,143.40C451.62,143.73 451.83,144.30 451.50,144.90C451.17,145.50 450.73,146.45 449.40,147.00C448.07,147.55 445.47,148.20 443.50,148.20C441.53,148.20 439.07,147.68 437.60,147.00C436.13,146.32 435.08,145.17 434.70,144.10C434.32,143.03 434.62,141.82 435.30,140.60C435.98,139.38 437.03,138.20 438.80,136.80C440.57,135.40 443.15,133.78 445.90,132.20C448.65,130.62 451.78,128.90 455.30,127.30C458.82,125.70 462.88,123.98 467.00,122.60C471.12,121.22 476.47,119.85 480.00,119.00C483.53,118.15 485.70,117.77 488.20,117.50C490.70,117.23 492.63,117.18 495.00,117.40C497.37,117.62 499.73,117.98 502.40,118.80C505.07,119.62 508.27,120.85 511.00,122.30C513.73,123.75 516.47,125.55 518.80,127.50C521.13,129.45 523.23,132.00 525.00,134.00C526.77,136.00 527.88,137.33 529.40,139.50C530.92,141.67 532.67,144.25 534.10,147.00C535.53,149.75 536.93,153.33 538.00,156.00C539.07,158.67 539.67,159.00 540.50,163.00C541.33,167.00 542.08,173.83 543.00,180.00C543.92,186.17 545.20,194.17 546.00,200.00C546.80,205.83 547.15,210.00 547.80,215.00C548.45,220.00 549.32,224.17 549.90,230.00C550.48,235.83 550.87,239.50 551.30,250.00C551.73,260.50 552.30,285.83 552.50,293.00" fill="none" stroke="#000" stroke-width="1.8"/>
<path d="M389.50,254.40C392.42,249.88 401.13,236.37 407.00,227.30C412.87,218.23 420.53,206.47 424.70,200.00C428.87,193.53 429.20,193.33 432.00,188.50C434.80,183.67 438.67,176.33 441.50,171.00C444.33,165.67 446.65,160.98 449.00,156.50C451.35,152.02 453.97,147.35 455.60,144.10C457.23,140.85 458.00,139.35 458.80,137.00C459.60,134.65 460.10,131.85 460.40,130.00C460.70,128.15 460.75,127.07 460.60,125.90C460.45,124.73 460.10,123.72 459.50,123.00C458.90,122.28 457.42,121.83 457.00,121.60" fill="none" stroke="#1a1aff" stroke-width="2.2" stroke-dasharray="2.6 2.3"/>
<path d="M389.50,275.90C393.58,269.50 405.93,250.15 414.00,237.50C422.07,224.85 431.23,210.92 437.90,200.00C444.57,189.08 449.32,180.25 454.00,172.00C458.68,163.75 463.03,155.87 466.00,150.50C468.97,145.13 470.22,143.22 471.80,139.80C473.38,136.38 474.53,132.90 475.50,130.00C476.47,127.10 477.15,124.65 477.60,122.40C478.05,120.15 478.38,117.87 478.20,116.50C478.02,115.13 477.28,114.67 476.50,114.20C475.72,113.73 474.00,113.78 473.50,113.70" fill="none" stroke="#1a1aff" stroke-width="2.2" stroke-dasharray="2.6 2.3"/>
<path d="M389.50,285.30C394.25,278.32 408.35,257.62 418.00,243.40C427.65,229.18 439.65,211.90 447.40,200.00C455.15,188.10 459.82,180.08 464.50,172.00C469.18,163.92 472.72,156.87 475.50,151.50C478.28,146.13 479.28,143.68 481.20,139.80C483.12,135.92 485.45,131.50 487.00,128.20C488.55,124.90 489.70,122.15 490.50,120.00C491.30,117.85 491.58,116.80 491.80,115.30C492.02,113.80 492.02,112.17 491.80,111.00C491.58,109.83 491.30,109.05 490.50,108.30C489.70,107.55 487.58,106.80 487.00,106.50" fill="none" stroke="#1a1aff" stroke-width="2.2" stroke-dasharray="2.6 2.3"/>
<path d="M451.80,117.00C452.67,116.93 455.05,116.07 457.00,116.60C458.95,117.13 461.80,118.30 463.50,120.20C465.20,122.10 466.03,124.70 467.20,128.00C468.37,131.30 469.67,135.50 470.50,140.00C471.33,144.50 471.73,150.00 472.20,155.00C472.67,160.00 472.57,164.17 473.30,170.00C474.03,175.83 475.58,183.67 476.60,190.00C477.62,196.33 478.05,203.00 479.40,208.00C480.75,213.00 483.02,216.33 484.70,220.00C486.38,223.67 487.97,226.97 489.50,230.00C491.03,233.03 491.78,235.32 493.90,238.20C496.02,241.08 499.07,244.37 502.20,247.30C505.33,250.23 508.97,253.23 512.70,255.80C516.43,258.37 520.61,260.70 524.56,262.74C528.51,264.77 532.44,266.46 536.40,268.00C540.36,269.54 544.46,270.71 548.34,271.96C552.21,273.22 555.55,273.98 559.67,275.53C563.78,277.09 568.57,279.23 573.02,281.28C577.46,283.34 584.12,286.76 586.34,287.86" fill="none" stroke="#ff0000" stroke-width="1.85" stroke-dasharray="6 2.1" stroke-dashoffset="0"/>
<path d="M460.60,112.40C461.50,112.30 464.35,111.28 466.00,111.80C467.65,112.32 469.07,113.47 470.50,115.50C471.93,117.53 473.43,119.92 474.60,124.00C475.77,128.08 476.77,134.83 477.50,140.00C478.23,145.17 478.58,150.00 479.00,155.00C479.42,160.00 479.53,164.17 480.00,170.00C480.47,175.83 480.87,183.33 481.80,190.00C482.73,196.67 484.15,204.33 485.60,210.00C487.05,215.67 489.10,220.50 490.50,224.00C491.90,227.50 493.17,228.90 494.00,231.00C494.83,233.10 493.87,234.15 495.50,236.60C497.13,239.05 500.67,242.77 503.80,245.70C506.93,248.63 510.59,251.61 514.30,254.20C518.01,256.79 522.15,259.16 526.04,261.26C529.92,263.36 533.73,265.17 537.60,266.80C541.47,268.43 545.48,269.69 549.26,271.04C553.05,272.38 556.32,273.22 560.33,274.87C564.35,276.51 568.99,278.81 573.38,280.92C577.77,283.03 582.25,285.47 586.66,287.54C591.07,289.61 597.66,292.37 599.86,293.34" fill="none" stroke="#ff0000" stroke-width="1.85" stroke-dasharray="6 2.1" stroke-dashoffset="3"/>
<path d="M466.50,109.40C467.57,109.57 471.07,109.50 472.90,110.40C474.73,111.30 476.37,112.87 477.50,114.80C478.63,116.73 478.92,117.80 479.70,122.00C480.48,126.20 481.62,134.00 482.20,140.00C482.78,146.00 482.87,152.67 483.20,158.00C483.53,163.33 483.63,166.67 484.20,172.00C484.77,177.33 485.37,183.67 486.60,190.00C487.83,196.33 489.70,204.33 491.60,210.00C493.50,215.67 496.02,220.33 498.00,224.00C499.98,227.67 502.22,229.63 503.50,232.00C504.78,234.37 504.17,236.00 505.70,238.20C507.23,240.40 509.56,242.28 512.70,245.20C515.84,248.12 520.61,252.92 524.56,255.74C528.51,258.56 532.43,260.19 536.39,262.11C540.35,264.03 544.45,265.92 548.33,267.27C552.20,268.63 555.54,268.68 559.65,270.25C563.77,271.82 568.55,274.63 573.00,276.70C577.46,278.76 581.95,281.13 586.38,282.62C590.81,284.11 595.16,284.80 599.58,285.62C604.00,286.44 608.46,287.04 612.88,287.52C617.30,288.00 621.66,288.14 626.08,288.52C630.50,288.90 635.91,289.50 639.38,289.82C642.85,290.14 645.63,290.32 646.88,290.42" fill="none" stroke="#ff0000" stroke-width="1.85" stroke-dasharray="6 2.1" stroke-dashoffset="6"/>
<path d="M471.60,102.00C472.95,102.27 477.62,102.37 479.70,103.60C481.78,104.83 483.05,106.67 484.10,109.40C485.15,112.13 485.52,114.90 486.00,120.00C486.48,125.10 486.80,133.67 487.00,140.00C487.20,146.33 487.07,152.67 487.20,158.00C487.33,163.33 487.42,166.67 487.80,172.00C488.18,177.33 488.43,183.67 489.50,190.00C490.57,196.33 492.32,204.33 494.20,210.00C496.08,215.67 498.83,220.33 500.80,224.00C502.77,227.67 504.92,229.90 506.00,232.00C507.08,234.10 505.92,234.67 507.30,236.60C508.68,238.53 511.18,240.66 514.30,243.60C517.42,246.54 522.16,251.38 526.04,254.26C529.92,257.14 533.74,258.88 537.61,260.89C541.48,262.90 545.48,264.88 549.27,266.33C553.06,267.77 556.33,267.89 560.35,269.55C564.37,271.22 569.02,274.17 573.40,276.30C577.78,278.44 582.22,280.87 586.62,282.38C591.02,283.89 595.40,284.56 599.82,285.38C604.24,286.20 610.90,286.96 613.12,287.28" fill="none" stroke="#ff0000" stroke-width="1.85" stroke-dasharray="6 2.1" stroke-dashoffset="1"/>
<path d="M473.80,99.10C475.03,99.22 479.23,98.93 481.20,99.80C483.17,100.67 484.38,102.20 485.60,104.30C486.82,106.40 487.77,109.78 488.50,112.40C489.23,115.02 489.58,115.40 490.00,120.00C490.42,124.60 490.83,133.67 491.00,140.00C491.17,146.33 491.08,152.67 491.00,158.00C490.92,163.33 490.75,166.67 490.50,172.00C490.25,177.33 489.25,184.50 489.50,190.00C489.75,195.50 490.68,200.00 492.00,205.00C493.32,210.00 495.57,216.00 497.40,220.00C499.23,224.00 500.17,225.92 503.00,229.00C505.83,232.08 511.09,235.57 514.40,238.50C517.71,241.43 519.40,243.73 522.86,246.56C526.31,249.39 531.01,252.98 535.12,255.47C539.22,257.95 543.47,259.61 547.48,261.47C551.50,263.32 554.97,265.16 559.22,266.59C563.47,268.03 568.48,268.74 572.99,270.08C577.50,271.43 581.88,273.25 586.29,274.68C590.71,276.12 595.08,277.52 599.49,278.68C603.91,279.85 608.38,280.87 612.79,281.68C617.21,282.50 621.58,282.98 625.99,283.58C630.41,284.18 633.66,284.68 639.29,285.28C644.93,285.88 653.21,286.60 659.79,287.18C666.38,287.77 675.63,288.52 678.79,288.78" fill="none" stroke="#ff0000" stroke-width="1.85" stroke-dasharray="6 2.1" stroke-dashoffset="4"/>
<path d="M478.00,105.00C479.17,105.17 483.08,105.00 485.00,106.00C486.92,107.00 488.30,108.67 489.50,111.00C490.70,113.33 491.53,115.17 492.20,120.00C492.87,124.83 493.27,133.67 493.50,140.00C493.73,146.33 493.68,152.67 493.60,158.00C493.52,163.33 493.27,166.67 493.00,172.00C492.73,177.33 491.83,184.50 492.00,190.00C492.17,195.50 492.80,200.00 494.00,205.00C495.20,210.00 497.37,216.00 499.20,220.00C501.03,224.00 502.33,226.03 505.00,229.00C507.67,231.97 512.10,234.98 515.20,237.80C518.30,240.62 520.19,243.04 523.61,245.90C527.03,248.76 531.65,252.42 535.70,254.96C539.74,257.49 543.93,259.21 547.89,261.11C551.85,263.01 555.26,264.90 559.46,266.38C563.65,267.87 570.79,269.42 573.06,270.03" fill="none" stroke="#ff0000" stroke-width="1.85" stroke-dasharray="6 2.1" stroke-dashoffset="7"/>
<path d="M487.00,95.40C488.00,95.60 491.45,95.75 493.00,96.60C494.55,97.45 495.38,98.60 496.30,100.50C497.22,102.40 497.97,104.75 498.50,108.00C499.03,111.25 499.67,114.67 499.50,120.00C499.33,125.33 498.05,133.67 497.50,140.00C496.95,146.33 496.55,152.67 496.20,158.00C495.85,163.33 495.73,166.67 495.40,172.00C495.07,177.33 494.07,184.50 494.20,190.00C494.33,195.50 495.07,200.00 496.20,205.00C497.33,210.00 499.20,216.00 501.00,220.00C502.80,224.00 504.50,226.15 507.00,229.00C509.50,231.85 513.11,234.39 516.00,237.10C518.89,239.81 520.98,242.35 524.36,245.25C527.74,248.14 532.29,251.87 536.28,254.45C540.26,257.04 544.39,258.80 548.29,260.76C552.20,262.71 555.56,264.63 559.70,266.17C563.84,267.71 568.67,268.57 573.12,269.97C577.57,271.37 582.00,273.14 586.42,274.57C590.84,276.01 595.20,277.41 599.62,278.57C604.04,279.74 608.50,280.76 612.92,281.57C617.34,282.39 621.70,282.87 626.12,283.47C630.54,284.07 637.20,284.89 639.42,285.17" fill="none" stroke="#ff0000" stroke-width="1.85" stroke-dasharray="6 2.1" stroke-dashoffset="2"/>
<path d="M483.00,108.00C484.08,108.17 487.67,108.00 489.50,109.00C491.33,110.00 492.92,112.17 494.00,114.00C495.08,115.83 495.17,115.67 496.00,120.00C496.83,124.33 498.53,133.67 499.00,140.00C499.47,146.33 498.97,152.67 498.80,158.00C498.63,163.33 498.33,166.67 498.00,172.00C497.67,177.33 496.73,184.50 496.80,190.00C496.87,195.50 497.37,200.00 498.40,205.00C499.43,210.00 501.27,216.00 503.00,220.00C504.73,224.00 506.52,226.25 508.80,229.00C511.08,231.75 514.00,233.89 516.70,236.50C519.40,239.11 521.67,241.76 525.02,244.68C528.37,247.60 532.84,251.39 536.78,254.02C540.72,256.65 544.79,258.46 548.65,260.45C552.50,262.45 555.82,264.41 559.91,265.99C564.00,267.57 568.75,268.50 573.18,269.92C577.60,271.35 584.26,273.76 586.48,274.52" fill="none" stroke="#ff0000" stroke-width="1.85" stroke-dasharray="6 2.1" stroke-dashoffset="5"/>
<path d="M494.40,93.20C495.13,93.33 497.53,93.20 498.80,94.00C500.07,94.80 501.08,95.92 502.00,98.00C502.92,100.08 503.80,102.83 504.30,106.50C504.80,110.17 505.22,114.42 505.00,120.00C504.78,125.58 503.58,133.67 503.00,140.00C502.42,146.33 501.92,152.67 501.50,158.00C501.08,163.33 500.85,166.67 500.50,172.00C500.15,177.33 499.38,184.50 499.40,190.00C499.42,195.50 499.67,200.00 500.60,205.00C501.53,210.00 503.33,216.00 505.00,220.00C506.67,224.00 508.53,226.37 510.60,229.00C512.67,231.63 514.89,233.30 517.40,235.80C519.91,238.30 522.36,241.07 525.68,244.02C528.99,246.98 533.40,250.83 537.29,253.51C541.18,256.19 545.20,258.05 549.00,260.10C552.81,262.14 556.08,264.15 560.12,265.78C564.16,267.41 568.83,268.42 573.23,269.87C577.63,271.32 582.12,273.03 586.53,274.47C590.95,275.90 595.32,277.30 599.73,278.47C604.15,279.63 608.62,280.65 613.03,281.47C617.45,282.28 621.82,282.77 626.23,283.37C630.65,283.97 633.90,284.47 639.53,285.07C645.17,285.67 653.45,286.38 660.03,286.97C666.62,287.55 675.87,288.30 679.03,288.57" fill="none" stroke="#ff0000" stroke-width="1.85" stroke-dasharray="6 2.1" stroke-dashoffset="0"/>
<path d="M492.00,101.00C493.00,101.17 496.25,101.00 498.00,102.00C499.75,103.00 501.42,105.17 502.50,107.00C503.58,108.83 504.00,110.83 504.50,113.00C505.00,115.17 505.33,115.50 505.50,120.00C505.67,124.50 505.68,133.67 505.50,140.00C505.32,146.33 504.78,152.67 504.40,158.00C504.02,163.33 503.63,166.67 503.20,172.00C502.77,177.33 501.83,184.50 501.80,190.00C501.77,195.50 502.13,200.00 503.00,205.00C503.87,210.00 505.43,216.00 507.00,220.00C508.57,224.00 510.55,226.47 512.40,229.00C514.25,231.53 515.78,232.79 518.10,235.20C520.42,237.61 523.05,240.48 526.33,243.46C529.62,246.44 533.96,250.35 537.80,253.08C541.63,255.80 545.60,257.71 549.36,259.79C553.11,261.88 556.34,263.93 560.33,265.60C564.32,267.27 568.91,268.35 573.29,269.82C577.66,271.29 582.17,272.99 586.59,274.42C591.00,275.85 597.59,277.75 599.79,278.42" fill="none" stroke="#ff0000" stroke-width="1.85" stroke-dasharray="6 2.1" stroke-dashoffset="3"/>
<path d="M496.00,98.00C497.00,98.20 500.25,98.20 502.00,99.20C503.75,100.20 505.42,101.87 506.50,104.00C507.58,106.13 508.03,109.33 508.50,112.00C508.97,114.67 509.35,115.33 509.30,120.00C509.25,124.67 508.58,133.67 508.20,140.00C507.82,146.33 507.40,152.67 507.00,158.00C506.60,163.33 506.30,166.67 505.80,172.00C505.30,177.33 504.10,184.50 504.00,190.00C503.90,195.50 504.37,200.00 505.20,205.00C506.03,210.00 507.50,216.00 509.00,220.00C510.50,224.00 512.57,226.57 514.20,229.00C515.83,231.43 516.67,232.28 518.80,234.60C520.93,236.92 523.74,239.89 526.99,242.90C530.24,245.90 534.52,249.88 538.30,252.64C542.09,255.41 547.81,258.35 549.71,259.49" fill="none" stroke="#ff0000" stroke-width="1.85" stroke-dasharray="6 2.1" stroke-dashoffset="6"/>
<path d="M483.50,96.20C484.15,95.95 486.07,94.63 487.40,94.70C488.73,94.77 490.03,95.38 491.50,96.60C492.97,97.82 493.95,99.13 496.20,102.00C498.45,104.87 502.67,110.63 505.00,113.80C507.33,116.97 508.93,118.30 510.20,121.00C511.47,123.70 512.03,126.50 512.60,130.00C513.17,133.50 513.27,137.33 513.60,142.00C513.93,146.67 514.32,153.00 514.60,158.00C514.88,163.00 514.97,166.67 515.30,172.00C515.63,177.33 516.22,183.67 516.60,190.00C516.98,196.33 516.88,204.90 517.60,210.00C518.32,215.10 519.33,217.07 520.90,220.60C522.47,224.13 524.50,227.67 527.00,231.20C529.50,234.73 532.63,239.26 535.90,241.80C539.17,244.34 542.89,244.18 546.65,246.47C550.40,248.75 554.15,252.80 558.42,255.51C562.70,258.23 567.71,260.73 572.30,262.76C576.89,264.80 581.48,266.12 585.95,267.73C590.42,269.34 596.95,271.64 599.15,272.43" fill="none" stroke="#ff0000" stroke-width="1.85" stroke-dasharray="6 2.1" stroke-dashoffset="1"/>
<path d="M490.00,94.00C490.78,93.75 493.28,92.40 494.70,92.50C496.12,92.60 497.12,93.42 498.50,94.60C499.88,95.78 501.18,97.13 503.00,99.60C504.82,102.07 507.10,106.27 509.40,109.40C511.70,112.53 514.77,116.05 516.80,118.40C518.83,120.75 520.40,121.57 521.60,123.50C522.80,125.43 523.43,126.92 524.00,130.00C524.57,133.08 524.65,135.33 525.00,142.00C525.35,148.67 525.60,162.00 526.10,170.00C526.60,178.00 526.95,183.33 528.00,190.00C529.05,196.67 530.80,204.32 532.40,210.00C534.00,215.68 535.55,220.28 537.60,224.10C539.65,227.92 540.75,228.13 544.70,232.90C548.65,237.67 556.38,248.03 561.30,252.70C566.22,257.37 569.88,258.60 574.20,260.90C578.52,263.20 582.88,264.74 587.20,266.50C591.51,268.27 595.73,270.02 600.10,271.50C604.46,272.99 608.97,274.21 613.39,275.41C617.81,276.61 622.17,277.71 626.59,278.71C631.01,279.71 634.26,280.54 639.89,281.41C645.52,282.28 653.81,283.18 660.39,283.91C666.97,284.64 676.22,285.49 679.39,285.81" fill="none" stroke="#ff0000" stroke-width="1.85" stroke-dasharray="6 2.1" stroke-dashoffset="4"/>
<path d="M490.00,104.50C490.75,104.42 493.17,103.75 494.50,104.00C495.83,104.25 496.75,104.83 498.00,106.00C499.25,107.17 500.73,108.67 502.00,111.00C503.27,113.33 504.73,116.50 505.60,120.00C506.47,123.50 506.83,128.33 507.20,132.00C507.57,135.67 507.53,138.00 507.80,142.00C508.07,146.00 508.32,151.67 508.80,156.00C509.28,160.33 509.92,164.58 510.70,168.00C511.48,171.42 511.70,171.57 513.50,176.50C515.30,181.43 518.35,190.68 521.50,197.60C524.65,204.52 529.48,213.27 532.40,218.00C535.32,222.73 536.73,223.43 539.00,226.00C541.27,228.57 542.07,229.17 546.00,233.40C549.93,237.63 557.75,246.97 562.60,251.40C567.45,255.83 570.93,257.56 575.11,259.99C579.30,262.42 583.53,264.08 587.72,265.98C591.91,267.87 595.94,269.81 600.24,271.36C604.54,272.91 609.11,274.08 613.52,275.28C617.93,276.48 624.52,278.03 626.72,278.58" fill="none" stroke="#ff0000" stroke-width="1.85" stroke-dasharray="6 2.1" stroke-dashoffset="7"/>
<path d="M497.00,104.80C497.83,104.83 500.42,104.37 502.00,105.00C503.58,105.63 505.02,107.13 506.50,108.60C507.98,110.07 509.33,111.82 510.90,113.80C512.47,115.78 514.58,117.80 515.90,120.50C517.22,123.20 518.07,126.42 518.80,130.00C519.53,133.58 519.87,137.00 520.30,142.00C520.73,147.00 521.05,154.33 521.40,160.00C521.75,165.67 521.83,169.67 522.40,176.00C522.97,182.33 524.03,192.33 524.80,198.00C525.57,203.67 526.03,206.23 527.00,210.00C527.97,213.77 529.10,217.35 530.60,220.60C532.10,223.85 534.53,227.10 536.00,229.50C537.47,231.90 537.27,232.52 539.40,235.00C541.53,237.48 545.37,241.23 548.80,244.40C552.23,247.57 555.93,251.08 560.00,254.00C564.07,256.92 568.78,259.70 573.20,261.90C577.62,264.10 582.08,265.53 586.50,267.20C590.92,268.87 595.28,270.47 599.70,271.90C604.12,273.33 608.58,274.60 613.00,275.80C617.42,277.00 621.78,278.10 626.20,279.10C630.62,280.10 633.87,280.93 639.50,281.80C645.13,282.67 653.42,283.57 660.00,284.30C666.58,285.03 675.83,285.88 679.00,286.20" fill="none" stroke="#ff0000" stroke-width="1.85" stroke-dasharray="6 2.1" stroke-dashoffset="2"/>
<path d="M515.00,85.10C515.67,85.23 517.77,85.28 519.00,85.90C520.23,86.52 521.35,86.85 522.40,88.80C523.45,90.75 524.57,94.17 525.30,97.60C526.03,101.03 526.52,105.33 526.80,109.40C527.08,113.47 526.93,117.57 527.00,122.00C527.07,126.43 526.87,131.00 527.20,136.00C527.53,141.00 528.07,146.33 529.00,152.00C529.93,157.67 531.20,164.60 532.80,170.00C534.40,175.40 537.63,182.00 538.60,184.40" fill="none" stroke="#ff0000" stroke-width="1.85" stroke-dasharray="6 2.1" stroke-dashoffset="5"/>
</g>
<path d="M389.50,293.40v-2.4M389.50,4.50v2.4M412.42,293.40v-2.4M412.42,4.50v2.4M431.80,293.40v-2.4M431.80,4.50v2.4M448.59,293.40v-2.4M448.59,4.50v2.4M463.40,293.40v-2.4M463.40,4.50v2.4M476.65,293.40v-2.4M476.65,4.50v2.4M527.63,293.40v-2.4M527.63,4.50v2.4M563.80,293.40v-2.4M563.80,4.50v2.4M591.85,293.40v-2.4M591.85,4.50v2.4M614.77,293.40v-2.4M614.77,4.50v2.4M634.16,293.40v-2.4M634.16,4.50v2.4M650.94,293.40v-2.4M650.94,4.50v2.4M665.75,293.40v-2.4M665.75,4.50v2.4M679.00,293.40v-2.4M679.00,4.50v2.4M389.50,293.40h2.4M679.00,293.40h-2.4M389.50,249.92h2.4M679.00,249.92h-2.4M389.50,224.48h2.4M679.00,224.48h-2.4M389.50,206.43h2.4M679.00,206.43h-2.4M389.50,192.43h2.4M679.00,192.43h-2.4M389.50,181.00h2.4M679.00,181.00h-2.4M389.50,171.33h2.4M679.00,171.33h-2.4M389.50,162.95h2.4M679.00,162.95h-2.4M389.50,155.56h2.4M679.00,155.56h-2.4M389.50,148.95h2.4M679.00,148.95h-2.4M389.50,105.47h2.4M679.00,105.47h-2.4M389.50,80.03h2.4M679.00,80.03h-2.4M389.50,61.98h2.4M679.00,61.98h-2.4M389.50,47.98h2.4M679.00,47.98h-2.4M389.50,36.55h2.4M679.00,36.55h-2.4M389.50,26.88h2.4M679.00,26.88h-2.4M389.50,18.50h2.4M679.00,18.50h-2.4M389.50,11.11h2.4M679.00,11.11h-2.4M389.50,4.50h2.4M679.00,4.50h-2.4" stroke="#555" stroke-width="0.5" fill="none"/>
<rect x="389.50" y="4.50" width="289.50" height="288.90" fill="none" stroke="#000" stroke-width="1.8"/>
<text x="389.50" y="313" text-anchor="middle" class="tk">5</text>
<text x="476.65" y="313" text-anchor="middle" class="tk">10</text>
<text x="563.80" y="313" text-anchor="middle" class="tk">20</text>
<text x="679.00" y="313" text-anchor="middle" class="tk">50</text>
<text x="386.6" y="10.70" text-anchor="end" class="tk">10</text>
<text x="386.6" y="54.18" text-anchor="end" class="tk">5</text>
<text x="386.6" y="155.15" text-anchor="end" class="tk">1</text>
<text x="386.6" y="198.63" text-anchor="end" class="tk">0.5</text>
<text x="386.6" y="299.60" text-anchor="end" class="tk">0.1</text>
<text x="534.2" y="338.1" text-anchor="middle" class="ax" style="font-size:15px">R/km</text>
<text transform="translate(358.6,167.5) rotate(-90)" class="ax" style="font-size:15px">M/<tspan font-style="italic">M</tspan><tspan font-size="10.5" dy="3.2">⊙</tspan></text>
<text transform="translate(403,106.4) rotate(-25.9)" font-size="18.5" textLength="75" lengthAdjust="spacingAndGlyphs">black hole</text>
<text transform="translate(469.3,47.6) rotate(-25.3)" font-size="10.3" fill="#1c1cbc" textLength="80.5" lengthAdjust="spacingAndGlyphs">Buchdahl's limit</text>
<text transform="translate(527.6,69.6) rotate(-25.8)" font-size="10.6" fill="#b00808" textLength="70" lengthAdjust="spacingAndGlyphs">photon–sphere</text>
<line x1="505.3" y1="36.2" x2="526" y2="44.4" stroke="#0a0ab0" stroke-width="1"/>
<polygon points="533.9,47.5 522.7,46.7 525.2,40.3" fill="#0a0ab0"/>
<text transform="translate(411.2,277.3) rotate(-57.5)" font-size="13" fill="#1a1aff" textLength="66.5" lengthAdjust="spacingAndGlyphs">Quark stars</text>
<text transform="translate(598.5,268.2) rotate(10.5)" font-size="13" fill="#ff0000" textLength="78" lengthAdjust="spacingAndGlyphs">Neutron stars</text>
<text transform="translate(559.3,128) rotate(90)" font-size="13.5" textLength="98.5" lengthAdjust="spacingAndGlyphs">Anisotropic stars</text>
</svg>
</body></html>
